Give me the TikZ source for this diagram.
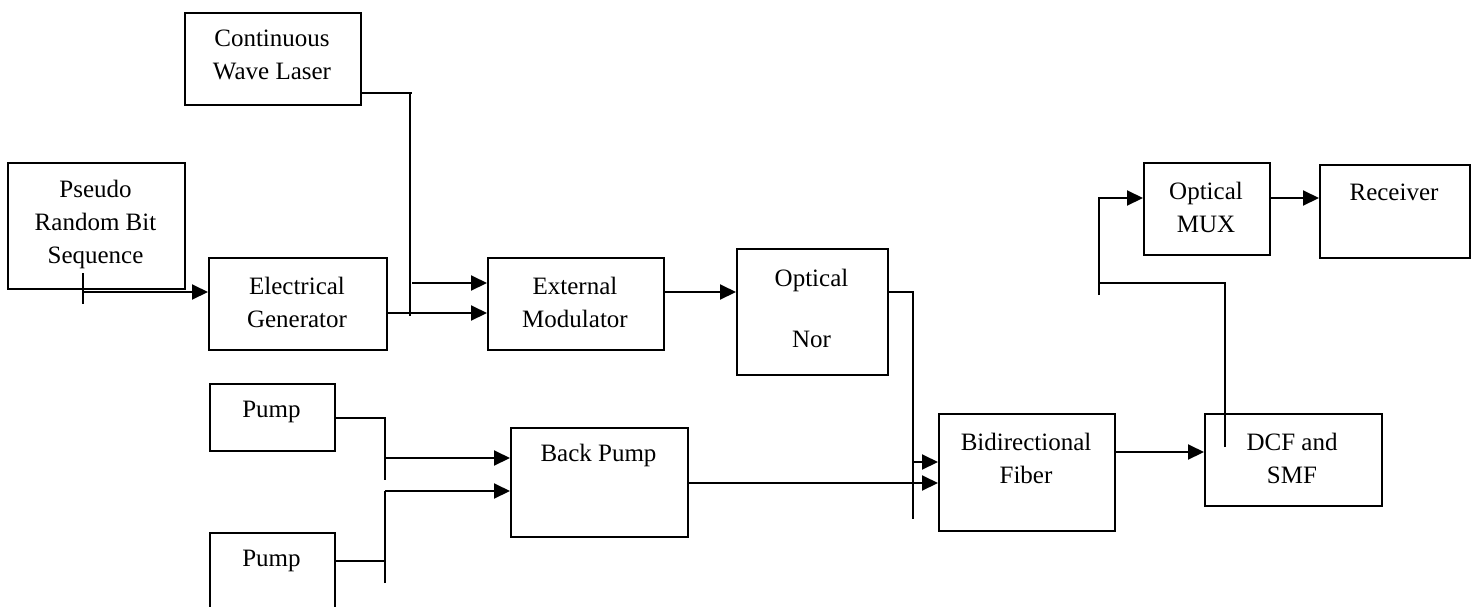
\documentclass[tikz,border=0pt]{standalone}
\usepackage{fontspec}
\setmainfont{Liberation Serif}
\usetikzlibrary{arrows.meta}
\begin{document}
\begin{tikzpicture}[x=1pt,y=-1pt,line width=2pt,
  box/.style={draw,inner sep=0pt,anchor=north west},
  lbl/.style={align=center,inner sep=0pt,font=\fontsize{25}{33}\selectfont},
  arr/.style={-{Triangle[length=16pt,width=15pt]}}]
\useasboundingbox (0,0) rectangle (1475,606);
\clip (0,0) rectangle (1475,606);
% boxes
\node[box,minimum width=176pt,minimum height=92pt] (cwl) at (184,12) {};
\node[box,minimum width=177pt,minimum height=126pt] (prbs) at (7,162) {};
\node[box,minimum width=178pt,minimum height=92pt] (eg) at (208,257) {};
\node[box,minimum width=176pt,minimum height=92pt] (em) at (487,257) {};
\node[box,minimum width=151pt,minimum height=126pt] (onor) at (736,248) {};
\node[box,minimum width=125pt,minimum height=67pt] (pump1) at (209,383) {};
\node[box,minimum width=125pt,minimum height=100pt] (pump2) at (209,532) {};
\node[box,minimum width=177pt,minimum height=109pt] (bp) at (510,427) {};
\node[box,minimum width=176pt,minimum height=117pt] (bf) at (938,413) {};
\node[box,minimum width=177pt,minimum height=92pt] (dcf) at (1204,413) {};
\node[box,minimum width=126pt,minimum height=92pt] (mux) at (1143,162) {};
\node[box,minimum width=150pt,minimum height=93pt] (rcv) at (1319,164) {};
% labels
\node[lbl] (tcwl) at (272,55) {Continuous\\Wave Laser};
\node[lbl] (tprbs) at (95.5,224) {Pseudo\\Random Bit\\Sequence};
\node[lbl] (teg) at (297,302) {Electrical\\Generator};
\node[lbl] (tem) at (575,302) {External\\Modulator};
\node[lbl] (tonor) at (811.5,308) {Optical\\[28pt]Nor};
\node[lbl] (tp1) at (271.5,412) {Pump};
\node[lbl] (tp2) at (271.5,561) {Pump};
\node[lbl] (tbp) at (598.5,455) {Back Pump};
\node[lbl] (tbf) at (1026,458) {Bidirectional\\Fiber};
\node[lbl] (tdcf) at (1292,458) {DCF and\\SMF};
\node[lbl] (tmux) at (1206,207) {Optical\\MUX};
\node[lbl] (trcv) at (1394,192) {Receiver};
% junction coordinates
\coordinate (cwlA) at (412,93);
\coordinate (cwlV1) at (410,93);
\coordinate (cwlV2) at (410,316);
\coordinate (emIn1) at (412,283);
\coordinate (y313) at (0,313);
\coordinate (prbsT1) at (83,273);
\coordinate (prbsT2) at (83,304);
\coordinate (prbsO) at (83,292);
\coordinate (y292) at (0,292);
\coordinate (nV1) at (913,292);
\coordinate (nV2) at (913,519);
\coordinate (bfIn1) at (913,462);
\coordinate (y482) at (0,483);
\coordinate (p1V) at (385,418);
\coordinate (p1B) at (385,480);
\coordinate (bpIn1) at (385,458);
\coordinate (p2V) at (385,561);
\coordinate (bpIn2) at (385,491);
\coordinate (p2B) at (385,583);
\coordinate (y452) at (0,452);
\coordinate (dA) at (1225,447);
\coordinate (dB) at (1225,283);
\coordinate (dC) at (1099,283);
\coordinate (mB) at (1099,295);
\coordinate (mT) at (1099,198);
% connectors
\draw (cwl.east |- cwlA) -- (cwlA);
\draw (cwlV1) -- (cwlV2);
\draw[arr] (emIn1) -- (em.west |- emIn1);
\draw[arr] (eg.east |- y313) -- (em.west |- y313);
\draw (prbsT1) -- (prbsT2);
\draw[arr] (prbsO) -- (eg.west |- prbsO);
\draw[arr] (em.east |- y292) -- (onor.west |- y292);
\draw (onor.east |- nV1) -- (nV1) -- (nV2);
\draw[arr] (bfIn1) -- (bf.west |- bfIn1);
\draw[arr] (bp.east |- y482) -- (bf.west |- y482);
\draw (pump1.east |- p1V) -- (p1V) -- (p1B);
\draw[arr] (bpIn1) -- (bp.west |- bpIn1);
\draw (pump2.east |- p2V) -- (p2V);
\draw (p2B) -- (bpIn2);
\draw[arr] (bpIn2) -- (bp.west |- bpIn2);
\draw[arr] (bf.east |- y452) -- (dcf.west |- y452);
\draw (dA) -- (dB) -- (dC);
\draw[arr] (mB) -- (mT) -- (mux.west |- mT);
\draw[arr] (mux.east |- mT) -- (rcv.west |- mT);
\end{tikzpicture}
\end{document}
